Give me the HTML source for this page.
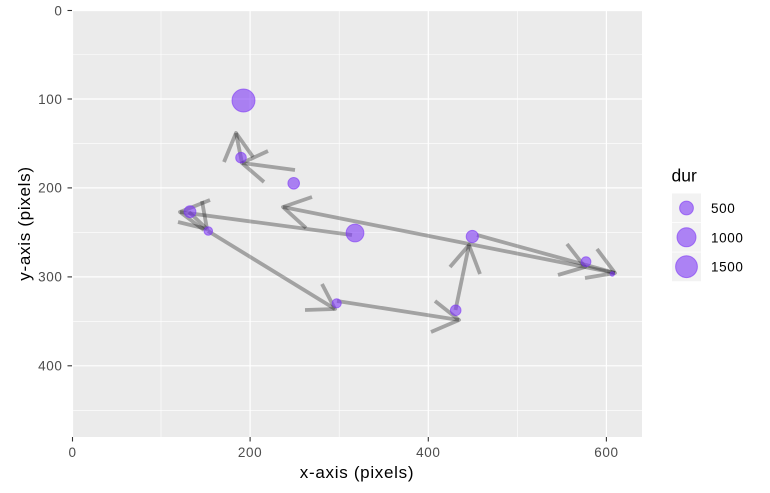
<!DOCTYPE html>
<html>
<head>
<meta charset="utf-8">
<style>
  html, body { margin: 0; padding: 0; background: #ffffff; }
  svg { display: block; }
  text { font-family: "Liberation Sans", Arial, sans-serif; }
</style>
</head>
<body>
<svg width="770" height="493" viewBox="0 0 770 493" xmlns="http://www.w3.org/2000/svg">
  <rect x="0" y="0" width="770" height="493" fill="#ffffff"/>
  <!-- panel -->
  <rect x="72" y="10" width="570" height="427" fill="#ebebeb"/>
  <!-- minor grid -->
  <g stroke="#ffffff" stroke-width="0.6">
    <line x1="161" y1="10" x2="161" y2="437"/>
    <line x1="339.2" y1="10" x2="339.2" y2="437"/>
    <line x1="517.3" y1="10" x2="517.3" y2="437"/>
    <line x1="72" y1="54.5" x2="642" y2="54.5"/>
    <line x1="72" y1="143.4" x2="642" y2="143.4"/>
    <line x1="72" y1="232.4" x2="642" y2="232.4"/>
    <line x1="72" y1="321.4" x2="642" y2="321.4"/>
    <line x1="72" y1="410.3" x2="642" y2="410.3"/>
  </g>
  <!-- major grid -->
  <g stroke="#ffffff" stroke-width="1.2">
    <line x1="72.5" y1="10" x2="72.5" y2="437"/>
    <line x1="250.1" y1="10" x2="250.1" y2="437"/>
    <line x1="428.3" y1="10" x2="428.3" y2="437"/>
    <line x1="606.4" y1="10" x2="606.4" y2="437"/>
    <line x1="72" y1="10.5" x2="642" y2="10.5"/>
    <line x1="72" y1="99" x2="642" y2="99"/>
    <line x1="72" y1="187.9" x2="642" y2="187.9"/>
    <line x1="72" y1="276.9" x2="642" y2="276.9"/>
    <line x1="72" y1="365.8" x2="642" y2="365.8"/>
  </g>

  <!-- arrows -->
  <g stroke="rgba(0,0,0,0.31)" stroke-width="3.8" fill="none" stroke-linejoin="round" stroke-linecap="butt">
    <!-- shafts -->
    <line x1="242" y1="163" x2="236" y2="133"/>
    <line x1="295" y1="170" x2="242" y2="163"/>
    <line x1="615" y1="273" x2="283" y2="207"/>
    <line x1="352" y1="235" x2="180" y2="212"/>
    <line x1="189" y1="212" x2="207" y2="229"/>
    <line x1="208" y1="231" x2="335" y2="309"/>
    <line x1="337" y1="301" x2="459" y2="320"/>
    <line x1="455.5" y1="310" x2="469" y2="245"/>
    <line x1="477" y1="235" x2="615" y2="273"/>
    <!-- heads -->
    <polyline points="224,162 236,133 253,157"/>
    <polyline points="268,151 242,163 264,182"/>
    <polyline points="312,197 283,207 306,228"/>
    <polyline points="210,200 180,212 204,230"/>
    <polyline points="202,201 207,229 178,222"/>
    <polyline points="322,284 335,309 305,310"/>
    <polyline points="435,301 459,320 431,332"/>
    <polyline points="450,267 469,245 480,274"/>
    <polyline points="597,249 615,273 585,278"/>
    <polyline points="567,244 585,267 558,275"/>
  </g>

  <!-- points -->
  <g fill="rgba(125,55,245,0.6)" stroke="rgba(125,55,245,0.6)" stroke-width="1">
    <circle cx="243.5" cy="100.5" r="11.5"/>
    <circle cx="241" cy="157.7" r="5.3"/>
    <circle cx="293.7" cy="183.3" r="5.8"/>
    <circle cx="190" cy="211.7" r="5.9"/>
    <circle cx="208.3" cy="231" r="4.3"/>
    <circle cx="336.7" cy="303.3" r="4.6"/>
    <circle cx="355" cy="233" r="8.9"/>
    <circle cx="455.7" cy="310.3" r="5.3"/>
    <circle cx="472.3" cy="236.5" r="6.1"/>
    <circle cx="586" cy="261.7" r="4.9"/>
    <circle cx="612.3" cy="274" r="2.2"/>
  </g>

  <!-- axis ticks -->
  <g stroke="#333333" stroke-width="1.1">
    <line x1="67.5" y1="10.5" x2="72" y2="10.5"/>
    <line x1="67.5" y1="99" x2="72" y2="99"/>
    <line x1="67.5" y1="187.9" x2="72" y2="187.9"/>
    <line x1="67.5" y1="276.9" x2="72" y2="276.9"/>
    <line x1="67.5" y1="365.8" x2="72" y2="365.8"/>
    <line x1="72.5" y1="437" x2="72.5" y2="441.5"/>
    <line x1="250.1" y1="437" x2="250.1" y2="441.5"/>
    <line x1="428.3" y1="437" x2="428.3" y2="441.5"/>
    <line x1="606.4" y1="437" x2="606.4" y2="441.5"/>
  </g>

  <!-- y tick labels -->
  <g fill="#4d4d4d" font-size="13.5" text-anchor="end" letter-spacing="0.6">
    <text x="62.5" y="15.3">0</text>
    <text x="62.5" y="103.8">100</text>
    <text x="62.5" y="192.7">200</text>
    <text x="62.5" y="281.7">300</text>
    <text x="62.5" y="370.6">400</text>
  </g>
  <!-- x tick labels -->
  <g fill="#4d4d4d" font-size="13.5" text-anchor="middle" letter-spacing="0.6">
    <text x="72.5" y="457">0</text>
    <text x="250.1" y="457">200</text>
    <text x="428.3" y="457">400</text>
    <text x="606.4" y="457">600</text>
  </g>

  <!-- axis titles -->
  <text x="357" y="478" font-size="17" text-anchor="middle" fill="#000000" letter-spacing="0.7">x-axis (pixels)</text>
  <text x="0" y="0" font-size="17" text-anchor="middle" fill="#000000" letter-spacing="0.7" transform="translate(30,223.5) rotate(-90)">y-axis (pixels)</text>

  <!-- legend -->
  <text x="671.5" y="181.7" font-size="17.5" fill="#000000">dur</text>
  <rect x="672" y="193.5" width="29" height="28.7" fill="#f2f2f2"/>
  <rect x="672" y="223" width="29" height="28.7" fill="#f2f2f2"/>
  <rect x="672" y="252.5" width="29" height="28.7" fill="#f2f2f2"/>
  <g fill="rgba(125,55,245,0.6)" stroke="rgba(125,55,245,0.6)" stroke-width="1">
    <circle cx="686.5" cy="208" r="6.9"/>
    <circle cx="686.5" cy="237.3" r="9.5"/>
    <circle cx="686.5" cy="266.7" r="10.9"/>
  </g>
  <g fill="#000000" font-size="13.5" letter-spacing="0.6">
    <text x="711" y="213.2">500</text>
    <text x="711" y="242.3">1000</text>
    <text x="711" y="271.6">1500</text>
  </g>
</svg>
</body>
</html>
